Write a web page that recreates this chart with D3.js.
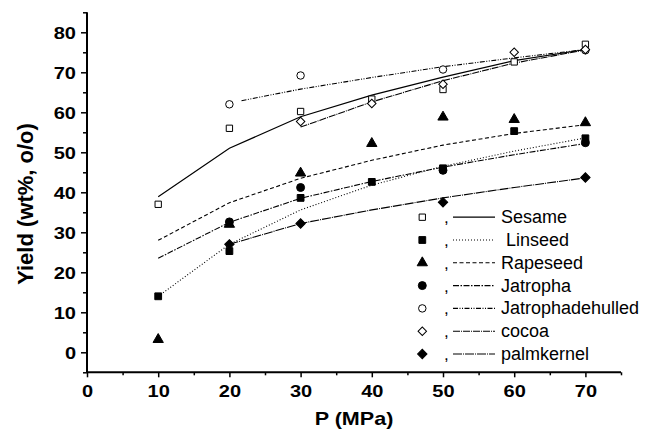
<!DOCTYPE html>
<html>
<head>
<meta charset="utf-8">
<script src="https://cdn.jsdelivr.net/npm/d3@7"></script>
<style>
  html, body { margin: 0; padding: 0; background: #fff; }
  svg { display: block; }
  text { font-family: "Liberation Sans", Arial, sans-serif; fill: #000; }
</style>
</head>
<body>
<svg id="chart" width="656" height="431"></svg>
<script>
// Extraction pressure (MPa)
const pressure = [10, 20, 30, 40, 50, 60, 70];

// Measured oil yields (wt%, o/o); null = not measured
const sesame       = [37, 56, 60.2, 63.3, 65.7, 72.6, 77];
const linseed      = [14, 25.3, 38.6, 42.6, 46, 55.3, 53.5];
const rapeseed     = [3.2, 32, 44.8, 52.2, 58.8, 58.2, 57.4];
const jatropha     = [null, 32.6, 41.2, null, 45.5, null, 52.4];
const jatrophaDeh  = [null, 62, 69.2, null, 70.7, null, 75.5];
const cocoa        = [null, null, 57.7, 62.2, 67, 75, 75.7];
const palmkernel   = [null, 27, 32.2, null, 37.5, null, 43.7];

// Fitted curves
const sesameFitX = [10, 20, 30, 40, 50, 60, 70];
const sesameFit  = [38.9, 51, 58.9, 64.3, 68.8, 72.9, 75.7];
const linseedFitX = [10, 20, 30, 40, 50, 60, 70];
const linseedFit  = [14, 27, 35.6, 41.8, 46.5, 50.3, 53.6];
const rapeseedFitX = [10, 20, 30, 40, 50, 60, 70];
const rapeseedFit  = [28, 37.4, 43.5, 48, 51.8, 54.7, 56.9];
const jatrophaFitX = [10, 20, 30, 40, 50, 60, 70];
const jatrophaFit  = [23.5, 32.5, 38.5, 42.7, 46.3, 49.4, 52.2];
const jatrophaDehFitX = [21.7, 30, 40, 50, 60, 70];
const jatrophaDehFit  = [62.9, 65.8, 68.7, 71.4, 73.6, 75.7];
const cocoaFitX = [30, 40, 50, 60, 70];
const cocoaFit  = [56.3, 62.6, 67.9, 72.3, 75.6];
const palmFitX = [20, 30, 40, 50, 60, 70];
const palmFit  = [27, 32.2, 35.6, 38.6, 41.2, 43.6];

// Axis ticks
const xTicks = [0, 10, 20, 30, 40, 50, 60, 70];
const yTicks = [0, 10, 20, 30, 40, 50, 60, 70, 80];

const seriesNames = ["Sesame", " Linseed", "Rapeseed", "Jatropha", "Jatrophadehulled", "cocoa", "palmkernel"];

const svg = d3.select("#chart");
const x = d3.scaleLinear().domain([0, 75]).range([87, 621]);
const y = d3.scaleLinear().domain([-5, 85]).range([372.3, 12.3]);

// marker drawing
const markerDefs = {
  openSquare:   { type: d3.symbolSquare, size: 40, fill: "#fff", rot: 0 },
  filledSquare: { type: d3.symbolSquare, size: 46, fill: "#000", rot: 0 },
  triangle:     { type: d3.symbolTriangle, size: 46, fill: "#000", rot: 0 },
  filledCircle: { type: d3.symbolCircle, size: 50, fill: "#000", rot: 0 },
  openCircle:   { type: d3.symbolCircle, size: 44, fill: "#fff", rot: 0 },
  openDiamond:  { type: d3.symbolSquare, size: 36, fill: "#fff", rot: 45 },
  filledDiamond:{ type: d3.symbolSquare, size: 44, fill: "#000", rot: 45 }
};

const series = [
  { name: seriesNames[0], vals: sesame,      fx: sesameFitX,      fy: sesameFit,      marker: "openSquare",   dash: null,                    width: 1.2 },
  { name: seriesNames[1], vals: linseed,     fx: linseedFitX,     fy: linseedFit,     marker: "filledSquare", dash: "1,2",                   width: 1.1 },
  { name: seriesNames[2], vals: rapeseed,    fx: rapeseedFitX,    fy: rapeseedFit,    marker: "triangle",     dash: "4,2.5",                 width: 1.1 },
  { name: seriesNames[3], vals: jatropha,    fx: jatrophaFitX,    fy: jatrophaFit,    marker: "filledCircle", dash: "6,1.5,1.5,1.5",         width: 1.1 },
  { name: seriesNames[4], vals: jatrophaDeh, fx: jatrophaDehFitX, fy: jatrophaDehFit, marker: "openCircle",   dash: "5,1.5,1,1.5,1,1.5",     width: 1.1 },
  { name: seriesNames[5], vals: cocoa,       fx: cocoaFitX,       fy: cocoaFit,       marker: "openDiamond",  dash: "7,1,1,1",               width: 1.1 },
  { name: seriesNames[6], vals: palmkernel,  fx: palmFitX,        fy: palmFit,        marker: "filledDiamond",dash: "9,1,1,1",               width: 1.1 }
];

function drawMarker(g, key, cx, cy) {
  const m = markerDefs[key];
  g.append("path")
    .attr("d", d3.symbol().type(m.type).size(m.size)())
    .attr("transform", `translate(${cx},${cy}) rotate(${m.rot})`)
    .attr("fill", m.fill)
    .attr("stroke", "#000")
    .attr("stroke-width", 1);
}

// fitted lines
const line = d3.line().x(d => x(d[0])).y(d => y(d[1]));
const linesG = svg.append("g");
series.forEach(s => {
  linesG.append("path")
    .datum(d3.zip(s.fx, s.fy))
    .attr("d", line)
    .attr("fill", "none")
    .attr("stroke", "#000")
    .attr("stroke-width", s.width)
    .attr("stroke-dasharray", s.dash);
});

// data points
const ptsG = svg.append("g");
series.forEach(s => {
  pressure.forEach((p, i) => {
    if (s.vals[i] != null) drawMarker(ptsG, s.marker, x(p), y(s.vals[i]));
  });
});

// axes
const xAxis = svg.append("g").attr("transform", `translate(0,${y(-5)})`)
  .call(d3.axisBottom(x).tickValues(xTicks).tickSize(5).tickFormat(d3.format("d")));
const xMinor = svg.append("g").attr("transform", `translate(0,${y(-5)})`)
  .call(d3.axisBottom(x).tickValues(d3.range(5, 80, 10)).tickSize(3).tickFormat(""));
const yAxis = svg.append("g").attr("transform", `translate(${x(0)},0)`)
  .call(d3.axisLeft(y).tickValues(yTicks).tickSize(6).tickFormat(d3.format("d")));
const yMinor = svg.append("g").attr("transform", `translate(${x(0)},0)`)
  .call(d3.axisLeft(y).tickValues(d3.range(-5, 90, 10)).tickSize(4).tickFormat(""));

[xAxis, xMinor, yAxis, yMinor].forEach(a => {
  a.select(".domain").attr("stroke", "#000").attr("stroke-width", 2);
  a.selectAll(".tick line").attr("stroke", "#000").attr("stroke-width", 1.5);
});
xMinor.select(".domain").remove();
yMinor.select(".domain").remove();
xAxis.select(".domain").attr("d", `M${x(0)},0H${x(75)}`);
yAxis.select(".domain").attr("d", `M0,${y(-5)}V${y(85)}`);

xAxis.selectAll(".tick text")
  .attr("font-family", "Liberation Sans, Arial, sans-serif")
  .attr("font-size", 16).attr("font-weight", "bold")
  .attr("y", 24.4).attr("dy", 0)
  .attr("transform", "scale(1.25,1)");
yAxis.selectAll(".tick text")
  .attr("font-family", "Liberation Sans, Arial, sans-serif")
  .attr("font-size", 16).attr("font-weight", "bold")
  .attr("x", -11 / 1.25).attr("dy", "0.36em")
  .attr("transform", "scale(1.25,1)");

// axis titles
svg.append("text")
  .attr("transform", `translate(${x(37.5)},425) scale(1.16,1)`)
  .attr("text-anchor", "middle")
  .attr("font-size", 18.6).attr("font-weight", "bold")
  .text("P (MPa)");
svg.append("text")
  .attr("transform", "translate(33,204) rotate(-90)")
  .attr("text-anchor", "middle")
  .attr("font-size", 22).attr("font-weight", "bold")
  .text("Yield (wt%, o/o)");

// legend
const legG = svg.append("g");
const legTop = 217.2, legStep = 22.8;
series.forEach((s, i) => {
  const cy = legTop + i * legStep;
  drawMarker(legG, s.marker, 422.3, cy);
  legG.append("text").attr("x", 444).attr("y", cy + 6).attr("font-size", 17).text(",");
  legG.append("line")
    .attr("x1", 453).attr("x2", 495).attr("y1", cy).attr("y2", cy)
    .attr("stroke", "#000").attr("stroke-width", s.width)
    .attr("stroke-dasharray", s.dash);
  legG.append("text")
    .attr("x", 501).attr("y", cy + 6)
    .attr("font-size", 18)
    .style("white-space", "pre")
    .text(s.name);
});
</script>
</body>
</html>
